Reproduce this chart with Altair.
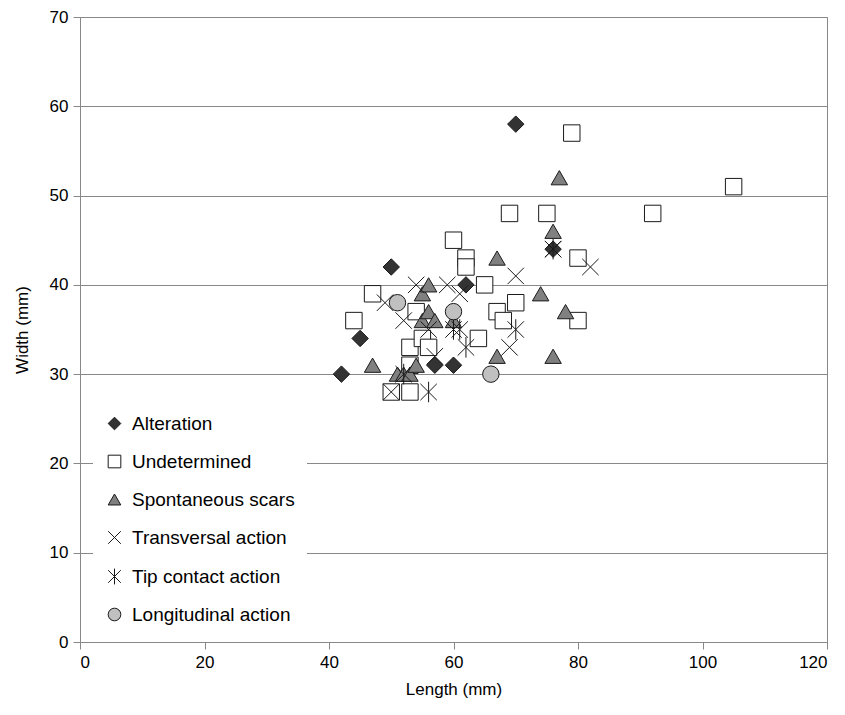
import altair as alt
import pandas as pd

types = ["Alteration", "Undetermined", "Spontaneous scars",
         "Transversal action", "Tip contact action", "Longitudinal action"]

alteration_x = [42, 45, 50, 57, 60, 62, 70, 76]
alteration_y = [30, 34, 42, 31, 31, 40, 58, 44]

undetermined_x = [44, 47, 50, 53, 53, 53, 54, 55, 56, 60, 62, 62, 64, 65, 67, 68, 69, 70, 75, 79, 80, 80, 92, 105]
undetermined_y = [36, 39, 28, 28, 31, 33, 37, 34, 33, 45, 43, 42, 34, 40, 37, 36, 48, 38, 48, 57, 43, 36, 48, 51]

spontaneous_x = [47, 51, 52, 53, 54, 55, 56, 55, 56, 57, 60, 67, 67, 74, 76, 77, 78, 76]
spontaneous_y = [31, 30, 30, 30, 31, 39, 40, 36, 37, 36, 36, 43, 32, 39, 46, 52, 37, 32]

transversal_x = [49, 52, 54, 59, 61, 50, 57, 56, 69, 70, 82, 76]
transversal_y = [38, 36, 40, 40, 39, 28, 32, 35, 33, 41, 42, 44]

tip_x = [56, 52, 60, 61, 62, 70, 76]
tip_y = [28, 30, 35, 35, 33, 35, 44]

longitudinal_x = [51, 60, 66]
longitudinal_y = [38, 37, 30]

series = [
    (types[0], alteration_x, alteration_y),
    (types[1], undetermined_x, undetermined_y),
    (types[2], spontaneous_x, spontaneous_y),
    (types[3], transversal_x, transversal_y),
    (types[4], tip_x, tip_y),
    (types[5], longitudinal_x, longitudinal_y),
]
rows = []
for name, xs, ys in series:
    for x, y in zip(xs, ys):
        rows.append({"type": name, "length": x, "width": y})
df = pd.DataFrame(rows)
df["order"] = df["type"].map({t: i for i, t in enumerate(types)})

x_path = "M-1,-1L1,1M-1,1L1,-1"
ast_path = "M-1,-1L1,1M-1,1L1,-1M0,-1.25L0,1.25"
shapes = ["diamond", "square", "triangle-up", x_path, ast_path, "circle"]
fills = ["#333333", "#ffffff", "#808080", "#000000", "#000000", "#c0c0c0"]
strokes = ["#1a1a1a"] * 6

FONT = "Liberation Sans"

chart = alt.Chart(df).mark_point(
    filled=True, size=270, strokeWidth=1, opacity=1
).encode(
    x=alt.X("length:Q", title="Length (mm)",
            scale=alt.Scale(domain=[0, 120], nice=False),
            axis=alt.Axis(values=[0, 20, 40, 60, 80, 100, 120], grid=False)),
    y=alt.Y("width:Q", title="Width (mm)",
            scale=alt.Scale(domain=[0, 70], nice=False),
            axis=alt.Axis(values=[0, 10, 20, 30, 40, 50, 60, 70], grid=True)),
    shape=alt.Shape("type:N", scale=alt.Scale(domain=types, range=shapes),
                    legend=alt.Legend(
                        title=None, orient="none", legendX=13, legendY=385,
                        fillColor="white", padding=12, symbolSize=160,
                        symbolStrokeWidth=1, labelLimit=400,
                        labelFontSize=19, labelFont=FONT, labelColor="#000",
                        labelOffset=8, rowPadding=18)),
    fill=alt.Fill("type:N", scale=alt.Scale(domain=types, range=fills)),
    stroke=alt.Stroke("type:N", scale=alt.Scale(domain=types, range=strokes)),
    order=alt.Order("order:Q"),
).properties(
    width=747, height=625,
    padding={"left": 72, "top": 9, "right": 10, "bottom": 70},
    autosize=alt.AutoSizeParams(type="none"),
).configure_view(
    stroke="#888888", strokeWidth=1
).configure_axis(
    domainColor="#888888", tickColor="#888888", gridColor="#888888",
    tickSize=7, labelFontSize=17, labelFont=FONT, labelColor="#000",
    titleFontSize=17, titleFont=FONT, titleFontWeight="normal", titleColor="#000",
    labelPadding=5,
).configure_axisY(
    titlePadding=18
).configure_axisX(
    titlePadding=11
)

chart.save("out.html", embed_options={"renderer": "svg", "actions": False})
